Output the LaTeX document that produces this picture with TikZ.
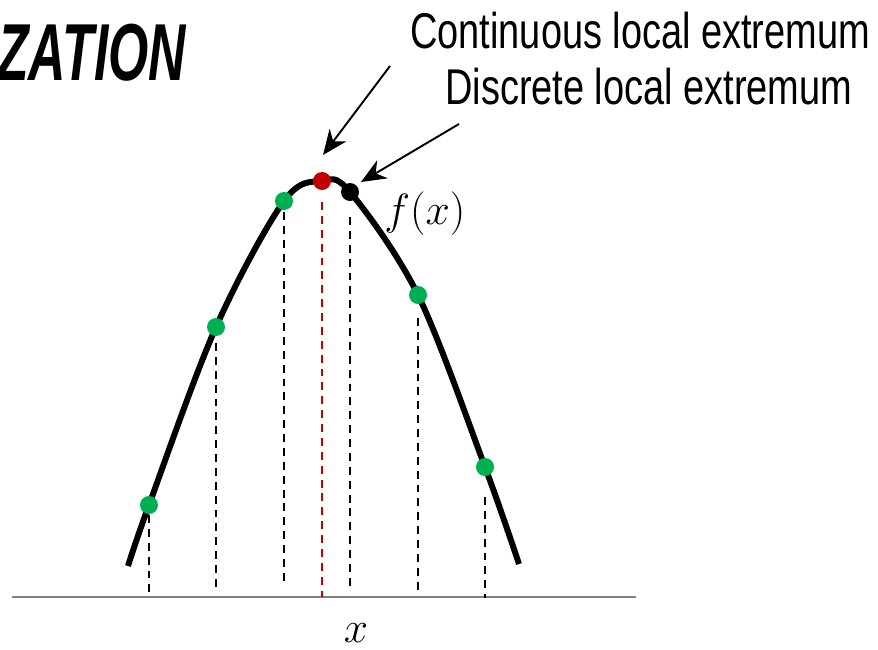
\documentclass[tikz,border=0pt]{standalone}
\usepackage[no-math]{fontspec}
\usepackage{amsmath}
\usetikzlibrary{arrows.meta,positioning}
\newfontfamily\narrowfont{Liberation Sans}[FakeStretch=0.755]
\newfontfamily\titlefont{Liberation Sans}[FakeStretch=0.64]
\definecolor{ptgreen}{HTML}{00B050}
\definecolor{ptred}{HTML}{C00000}

\begin{document}
\begin{tikzpicture}[x=0.02cm,y=-0.02cm,
    dot/.style={circle,fill,inner sep=0pt,minimum size=0.36cm},
    curve/.style={line width=3.4pt,line cap=butt},
    drop/.style={line width=1.1pt,dash pattern=on 4.5pt off 3.4pt},
    pointer/.style={line width=1.1pt,-{Stealth[length=0.5cm,width=0.42cm,inset=0.16cm]}},
    lbl/.style={inner sep=0pt,font=\narrowfont\fontsize{28.6}{34}\selectfont},
    mathlbl/.style={inner sep=0pt,font=\fontsize{33}{38}\selectfont}]
    \useasboundingbox (0,0) rectangle (878,649);
    % title (cut at the left)
    \node[inner sep=0pt,anchor=base west,font=\titlefont\bfseries\itshape\fontsize{46}{52}\selectfont] (title) at (-3,80) {ZATION};
    % axis
    \coordinate (axl) at (12,597);
    \coordinate (axr) at (636,597);
    \draw[line width=1.1pt,gray] (axl) -- (axr);
    % drop lines under the samples
    \foreach \n/\px/\yt/\yb/\c in {
        a/149/515/592/black,
        b/216/343/589/black,
        c/284/212/583/black,
        r/322/202/597/ptred,
        d/350/217/589/black,
        e/418/318/592/black,
        f/485/497/598/black} {
        \coordinate (top\n) at (\px,\yt);
        \coordinate (bot\n) at (\px,\yb);
        \draw[drop,draw=\c] (top\n) -- (bot\n);
    }
    % the function
    \draw[curve] plot[smooth,tension=0.55] coordinates {
        (128,566) (149,505) (216,327) (284,201) (322,181) (350,192) (418,295) (485,467) (519,564)};
    % samples
    \foreach \n/\p/\c in {
        pa/{149,505}/ptgreen,
        pb/{216,327}/ptgreen,
        pc/{284,201}/ptgreen,
        pr/{322,181}/ptred,
        pd/{350,192}/black,
        pe/{418,295}/ptgreen,
        pf/{485,467}/ptgreen} {
        \node[dot,fill=\c] (\n) at (\p) {};
    }
    % labels
    \node[lbl,anchor=base west] (cont) at (410,48) {Continuous local extremum};
    \node[lbl,anchor=base west] (disc) at (445,104) {Discrete local extremum};
    \node[mathlbl,anchor=base west] (fx) at (384,224) {$f(x)$};
    \node[mathlbl,anchor=base] (xlbl) at (356,642) {$x$};
    % arrows
    \coordinate (tailc) at (390,66);
    \coordinate (tipc) at (323,155);
    \coordinate (taild) at (459,124);
    \coordinate (tipd) at (361,182);
    \draw[pointer] (tailc) -- (tipc);
    \draw[pointer] (taild) -- (tipd);
\end{tikzpicture}
\end{document}
